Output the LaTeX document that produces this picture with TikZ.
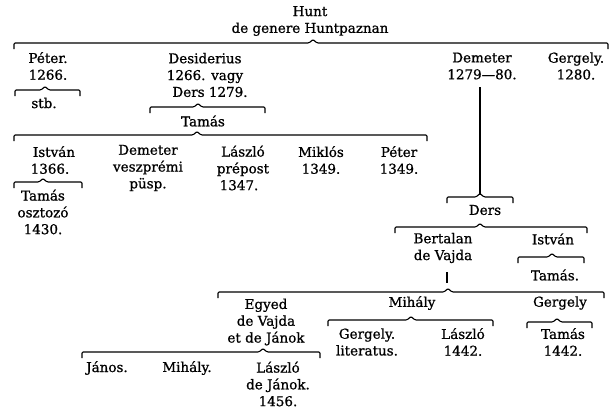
\documentclass[tikz,border=0pt]{standalone}
\usepackage{fontspec}
\setmainfont{DejaVu Serif}
\newfontfamily\heavyserif[FakeBold=0.9]{DejaVu Serif}
\tikzset{
  lbl/.style={inner sep=0pt, align=center, font=\heavyserif\fontsize{13.5}{16.8}\selectfont},
  brk/.style={line width=1.1pt, rounded corners=1.2pt},
  stem/.style={line width=1.1pt}
}
% bracket: x1, x2, y, x of peak
\newcommand\fbrk[4]{\draw[brk] (#1,#3+6) -- (#1,#3) -- (#4-4,#3) -- (#4,#3-3.5) -- (#4+4,#3) -- (#2,#3) -- (#2,#3+6);}
\begin{document}
\begin{tikzpicture}[x=1pt,y=-1pt]
\useasboundingbox (0,0) rectangle (616,413);
% generation 0
\node[lbl] (hunt) at (310,21) {Hunt\\de genere Huntpaznan};
\fbrk{14}{608}{43}{313}
% generation 1
\node[lbl] (peter1) at (48,66) {Péter.\\1266.};
\node[lbl] (desid) at (205,75) {Desiderius\\1266. vagy\\\hspace*{10pt}Ders 1279.};
\node[lbl] (demeter1) at (482,66) {Demeter\\1279—80.};
\node[lbl] (gergely1) at (576,66) {Gergely.\\1280.};
% Peter's line
\fbrk{15}{80}{90}{45}
\node[lbl] (stb) at (44,103) {stb.};
% Desiderius' line
\fbrk{150}{265}{107}{198}
\node[lbl] (tamas1) at (203,121) {Tamás};
\fbrk{14}{427}{135}{197}
% generation 3
\node[lbl] (istvan1) at (50,160) {\hspace*{8pt}István\\1366.};
\node[lbl] (demeter2) at (148,168) {Demeter\\veszprémi\\püsp.};
\node[lbl] (laszlo1) at (243,168) {László\\prépost\\1347.\hspace*{8pt}};
\node[lbl] (miklos) at (321,160) {Miklós\\1349.};
\node[lbl] (peter2) at (399,160) {Péter\\1349.};
\fbrk{14}{82}{182}{43}
\node[lbl] (tamas2) at (43,212) {Tamás\\osztozó\\1430.};
% Demeter's line
\coordinate (dtop) at (480,87);
\coordinate (dbot) at (480,193.5);
\draw[stem] (dtop) -- (dbot);
\fbrk{447}{513}{197}{480}
\node[lbl] (ders) at (485,210) {Ders};
\fbrk{395}{587}{227}{480}
\node[lbl] (bertalan) at (443,248) {Bertalan\\de Vajda};
\node[lbl] (istvan2) at (553,239) {István};
\fbrk{518}{584}{257}{552}
\node[lbl] (tamas3) at (555,275) {Tamás.};
\coordinate (btop) at (447,272);
\coordinate (bbot) at (447,283);
\draw[stem] (btop) -- (bbot);
\fbrk{218}{604}{292}{448}
% generation 6
\node[lbl] (egyed) at (266,322) {Egyed\\de Vajda\\et de Jánok};
\node[lbl] (mihaly1) at (412,303) {Mihály};
\node[lbl] (gergely2) at (560,303) {Gergely};
\fbrk{328}{493}{320}{411}
\node[lbl] (gergely3) at (367,342) {Gergely.\\literatus.};
\node[lbl] (laszlo2) at (463,342) {László\\1442.};
\fbrk{527}{592}{322}{557}
\node[lbl] (tamas4) at (563,342) {Tamás\\1442.};
\fbrk{82}{320}{352}{263}
\node[lbl] (janos) at (107,368) {János.};
\node[lbl] (mihaly2) at (187,368) {Mihály.};
\node[lbl] (laszlo3) at (278,384) {László\\de Jánok.\\1456.};
\end{tikzpicture}
\end{document}
